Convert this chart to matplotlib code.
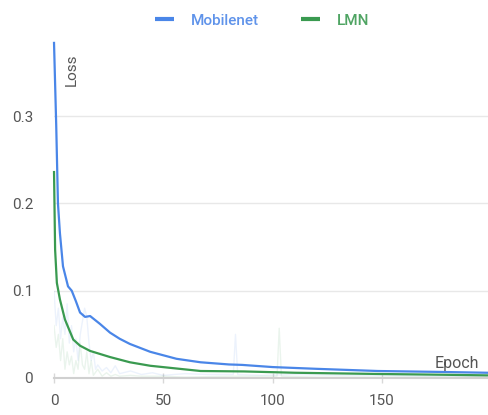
import matplotlib
matplotlib.use('Agg')
import matplotlib.pyplot as plt

plt.rcParams['font.family'] = ['Roboto', 'DejaVu Sans']

# 平滑后的曲线
mobilenet_epoch = [0, 1, 1.8, 2.7, 4.1, 6.4, 8.1, 10, 11.9, 14.2, 16.5, 21, 25.6, 30, 34.7, 44, 56, 67, 80, 86, 100, 120, 148, 175, 198]
mobilenet_loss = [0.384, 0.29, 0.2, 0.166, 0.128, 0.105, 0.1, 0.088, 0.075, 0.07, 0.071, 0.062, 0.052, 0.045, 0.039, 0.03, 0.022, 0.018, 0.0155, 0.015, 0.0125, 0.0105, 0.008, 0.007, 0.006]
lmn_epoch = [0, 0.5, 1.3, 2.7, 5, 8.8, 11.9, 16.5, 25.6, 34.7, 44, 67, 87, 110, 148, 175, 198]
lmn_loss = [0.236, 0.147, 0.109, 0.09, 0.067, 0.044, 0.037, 0.031, 0.024, 0.018, 0.014, 0.008, 0.0075, 0.006, 0.0046, 0.0038, 0.003]

# 原始（未平滑）数据，淡色显示
mobilenet_raw_epoch = [0, 1, 2, 3, 4, 5, 6, 7, 8, 9, 10, 11, 12, 13, 14, 15, 16, 17, 18, 19, 20, 22, 24, 26, 28, 30, 35, 40, 45, 50, 60, 70, 82, 83, 84, 95, 110, 130, 150, 170, 198]
mobilenet_raw_loss = [0.099, 0.06, 0.08, 0.045, 0.07, 0.05, 0.085, 0.04, 0.06, 0.03, 0.045, 0.02, 0.05, 0.065, 0.08, 0.07, 0.04, 0.02, 0.03, 0.01, 0.015, 0.008, 0.012, 0.006, 0.014, 0.005, 0.008, 0.004, 0.006, 0.003, 0.005, 0.004, 0.004, 0.05, 0.004, 0.003, 0.004, 0.003, 0.003, 0.002, 0.002]
lmn_raw_epoch = [0, 1, 2, 3, 4, 5, 6, 7, 8, 9, 10, 11, 12, 13, 14, 15, 16, 17, 18, 20, 22, 24, 26, 28, 30, 35, 40, 50, 60, 80, 102, 103, 104, 120, 150, 198]
lmn_raw_loss = [0.06, 0.035, 0.05, 0.02, 0.045, 0.01, 0.03, 0.015, 0.025, 0.005, 0.02, 0.01, 0.04, 0.015, 0.01, 0.03, 0.005, 0.02, 0.003, 0.01, 0.002, 0.006, 0.002, 0.004, 0.002, 0.003, 0.002, 0.002, 0.001, 0.002, 0.002, 0.057, 0.002, 0.001, 0.001, 0.001]

x_ticks = [0, 50, 100, 150]
y_ticks = [0, 0.1, 0.2, 0.3]
y_tick_labels = ['0', '0.1', '0.2', '0.3']

blue = '#4a86e8'
green = '#3a9a50'

fig = plt.figure(figsize=(4.88, 4.15), dpi=100)
ax = fig.add_axes([0.1107, 0.0892, 0.8893, 0.8095])

ax.plot(mobilenet_raw_epoch, mobilenet_raw_loss, color=blue, alpha=0.1, lw=1)
ax.plot(lmn_raw_epoch, lmn_raw_loss, color=green, alpha=0.1, lw=1)
ax.plot(mobilenet_epoch, mobilenet_loss, color=blue, lw=1.6, label='Mobilenet', clip_on=False)
ax.plot(lmn_epoch, lmn_loss, color=green, lw=1.6, label='LMN', clip_on=False)

ax.set_xlim(0, 198.5)
ax.set_ylim(0, 0.385)
ax.set_xticks(x_ticks)
ax.set_yticks(y_ticks)
ax.set_yticklabels(y_tick_labels)

for s in ['top', 'right', 'left']:
    ax.spines[s].set_visible(False)
ax.spines['bottom'].set_color('#d0d0d0')
ax.spines['bottom'].set_linewidth(1.5)
ax.tick_params(axis='x', direction='inout', length=7, width=1, color='#d8d8d8',
               labelcolor='#555555', labelsize=11, pad=8)
ax.tick_params(axis='y', length=0, labelcolor='#555555', labelsize=11, pad=15)
ax.grid(axis='y', color='#e8e8e8', lw=1)
ax.set_axisbelow(True)

ax.text(0.042, 0.965, 'Loss', transform=ax.transAxes, rotation=90, ha='center', va='top',
        fontsize=11, color='#555555')
ax.text(0.98, 0.022, 'Epoch', transform=ax.transAxes, ha='right', va='bottom',
        fontsize=11.5, color='#555555')

leg = fig.legend(loc='upper center', bbox_to_anchor=(0.537, 1.0), ncol=2, frameon=False,
                 handlelength=1.2, handletextpad=1.1, columnspacing=2.8,
                 prop={'size': 11, 'weight': 'medium'})
for line in leg.get_lines():
    line.set_linewidth(3)
    line.set_solid_capstyle('butt')
for text, c in zip(leg.get_texts(), ['#5f93ea', '#4fa463']):
    text.set_color(c)

fig.savefig('out.png', dpi=100)
